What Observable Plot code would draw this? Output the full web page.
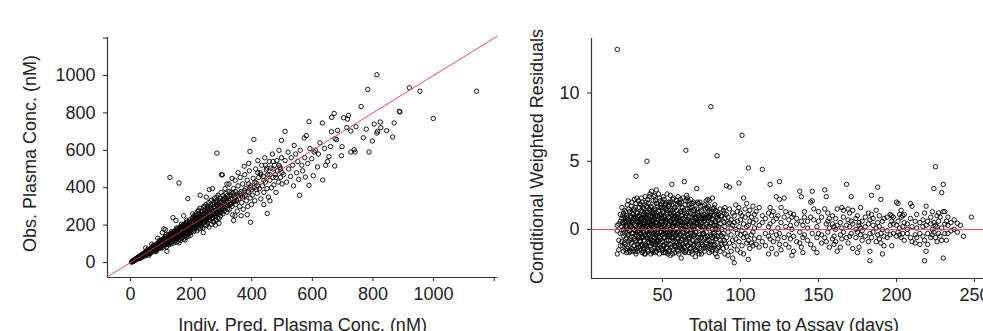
<!DOCTYPE html>
<html><head><meta charset="utf-8">
<script src="https://cdn.jsdelivr.net/npm/d3@7"></script>
<script src="https://cdn.jsdelivr.net/npm/@observablehq/plot@0.6"></script>
<style>
html,body{margin:0;padding:0;background:#fff;}
#wrap{position:relative;width:983px;height:331px;overflow:hidden;background:#fff;}
#left{position:absolute;left:0;top:0;width:500px;height:331px;}
#right{position:absolute;left:500px;top:0;width:500px;height:331px;}
#wrap svg{max-width:none !important;}
</style></head><body><div id="wrap"><div id="left"></div><div id="right"></div></div>
<script>
// Left panel: [individual predicted conc (nM), observed conc (nM)]
const ipredObs = [
[3,2],[5,6],[6,4],[8,9],[9,7],[10,12],[12,10],[13,15],[14,11],[16,18],[17,14],[18,21],[20,17],[21,24],[22,19],[24,20],[25,29],[26,23],[28,25],[29,33],[30,27],[31,22],[33,38],[34,30],[35,27],[37,42],[38,33],[39,36],[40,30],[42,48],[43,38],[44,35],[46,52],[47,41],[48,37],[49,55],[50,44],[52,40],[53,60],[54,47],[55,52],[57,45],[58,64],[59,50],[60,56],[62,48],[63,70],[64,58],[65,52],[67,76],[68,62],[69,55],[70,66],[72,80],[73,60],[74,68],[75,85],[77,64],[78,72],[79,58],[80,90],[82,75],[83,68],[84,95],[85,79],[87,70],[88,100],[89,83],[90,72],[92,104],[93,86],[94,76],[95,110],[97,90],[98,80],[99,115],[100,92],
[50,78],[70,98],[90,130],[60,38],[85,60],[115,175],[105,160],
[101,85],[102,118],[104,96],[105,78],[106,125],[108,101],[109,88],[110,130],[112,104],[113,92],[114,120],[115,138],[117,98],[118,110],[119,84],[120,140],[121,115],[123,105],[124,130],[125,148],[126,95],[128,118],[129,135],[130,108],[131,152],[133,122],[134,100],[135,140],[137,158],[138,125],[139,112],[140,145],[142,130],[143,105],[144,165],[145,138],[147,118],[148,152],[149,172],[150,128],[152,140],[153,110],[154,160],[155,178],[157,135],[158,148],[159,122],[160,168],[162,185],[163,142],[164,118],[165,155],[167,175],[168,130],[169,190],[170,150],[172,138],[173,165],[174,198],[175,125],[177,160],[178,182],[179,145],[180,205],[182,170],[183,135],[184,155],[185,190],[187,148],[188,212],[189,165],[190,140],[192,180],[193,198],[194,155],[195,220],[197,172],[198,145],[199,190],[200,162],
[130,455],[160,425],[189,342],[140,240],[110,180],[150,225],[175,250],[120,60],[180,120],[160,105],
[202,215],[203,178],[205,235],[206,195],[208,165],[209,250],[211,205],[212,182],[214,228],[215,260],[217,190],[218,215],[219,170],[221,240],[222,275],[224,200],[225,225],[227,180],[228,258],[229,290],[231,215],[232,195],[234,245],[235,270],[237,208],[238,230],[239,185],[241,262],[242,300],[244,220],[245,245],[247,198],[248,275],[249,310],[251,232],[252,255],[254,210],[255,285],[257,240],[258,320],[259,190],[261,265],[262,225],[264,295],[265,250],[267,205],[268,335],[269,272],[271,238],[272,310],[274,260],[275,215],[277,290],[278,345],[279,245],[281,275],[282,228],[284,320],[285,262],[287,300],[288,240],[289,360],[291,285],[292,210],[294,330],[295,268],[297,250],[298,305],[299,375],[300,282],
[285,585],[300,470],[303,468],[230,360],[260,390],[240,160],[280,200],[270,395],[250,350],
[302,315],[305,260],[308,345],[310,290],[312,395],[315,330],[318,270],[320,360],[322,305],[325,420],[327,285],[330,340],[332,375],[335,300],[337,255],[340,395],[342,330],[345,440],[347,310],[350,365],[352,275],[355,410],[357,340],[360,300],[362,455],[365,380],[367,320],[370,420],[372,285],[375,355],[377,470],[380,395],[382,330],[385,440],[387,300],[390,375],[392,490],[395,345],[397,410],[399,310],[318,420],[345,250],[365,250],[375,515],[390,530],[355,480],[335,450],
[396,215],[385,256],[451,262],[340,225],
[402,360],[405,450],[408,400],[410,330],[413,500],[415,425],[418,370],[420,545],[423,455],[425,395],[428,480],[430,340],[433,520],[435,410],[438,460],[440,375],[443,560],[445,430],[448,495],[450,395],[453,470],[455,350],[458,540],[460,440],[463,505],[465,400],[468,580],[470,455],[473,415],[475,520],[478,470],[480,375],[483,545],[485,490],[488,430],[490,600],[493,510],[495,455],[498,560],[500,420],
[407,658],[394,594],[498,653],[510,701],[460,330],[440,310],
[558,359],[540,626],[573,666],[580,678],[589,753],[589,413],[577,457],[603,464],[606,591],[617,511],[633,746],[634,441],[644,520],[655,566],[663,699],[664,776],[672,797],[674,516],[675,662],[680,657],[683,706],[696,571],[698,619],
[505,470],[510,545],[515,430],[520,590],[522,500],[528,460],[530,560],[535,520],[538,410],[545,580],[548,480],[552,540],[555,445],[560,600],[565,520],[568,490],[575,560],[585,530],[592,610],[598,555],[610,600],[620,580],[625,640],[640,610],[650,540],[660,620],
[703,774],[714,721],[716,767],[719,786],[727,703],[727,591],[738,603],[741,591],[744,726],[761,834],[768,667],[778,713],[783,925],[787,591],[798,650],[804,740],[813,1004],[813,692],[815,701],[824,751],[826,721],[845,705],[865,671],[870,746],[887,808],[889,805],[920,934],[955,916],[999,770],[1142,916],
[11,9],[15,16],[19,18],[23,25],[27,26],[32,30],[36,39],[41,40],[45,47],[51,50],[56,58],[61,62],[66,66],[71,73],[76,75],[81,82],[86,88],[91,90],[96,99],[103,104],[107,110],[111,112],[116,118],[122,124],[127,125],[132,135],[136,132],[141,143],[146,150],[151,148],[156,160],[161,158],[166,170],[171,168],[176,180],[181,178],[186,192],[191,188],[196,200],[201,198],
[107,95],[113,130],[119,128],[126,112],[131,140],[138,150],[143,128],[149,160],[154,140],[162,150],[167,185],[172,160],[178,195],[183,170],[188,180],[194,210],[199,175],[204,222],[210,190],[216,240],[220,205],[226,245],[233,220],[236,255],[243,235],[246,265],[253,240],[256,270],[263,248],[266,285],[273,255],[276,300],[283,265],[286,310],[293,275],[296,320],
[118,150],[135,165],[152,185],[168,205],[185,225],[205,260],[225,280],[245,300],[265,330],[285,350],[128,100],[148,115],[170,135],[190,155],[210,170],[232,185],[252,200],[272,220],[292,235],
[305,300],[315,310],[325,330],[335,340],[345,350],[355,355],[365,360],[375,385],[385,380],[395,400],[310,340],[320,320],[330,310],[340,360],[350,330],[360,370],[370,350],[380,360],[390,420],[400,390],
[56,70],[74,90],[96,120],[64,48],[82,62],[99,78],
[42,40],[46,44],[50,53],[54,51],[58,60],[62,59],[66,70],[70,68],[74,76],[78,77],[82,86],[86,82],[90,95],[94,91],[98,104],[102,99],[106,112],[110,106],[114,124],[118,114],[122,130],[126,121],[130,140],[134,129],[138,147],[142,136],[146,158],[150,143],[154,166],[158,150],[162,175],[166,160],[170,182],[174,167],[178,192],[182,175],[186,200],[190,180],[194,210],[198,190],[202,220],[206,198],[210,228],[214,204],[218,236],[222,212],[226,246],[230,220],[234,255],[238,228],[242,262],[246,236],[250,270],[254,244],[258,282],[262,250],[266,290],[270,258],[274,298],[278,265],[282,306],[286,272],[290,316],[294,280],[298,325],[302,288],[306,335],[310,296],[314,345],[318,305],[322,352],[326,312],[330,362],[334,318],[338,372],[342,325],[346,380],[350,332],
[130,118],[140,126],[150,134],[160,144],[170,152],[180,162],[190,170],[200,180],[210,188],[220,196],[230,205],[240,214],[250,222],[260,232],[270,240],[280,250],[290,258],[300,268],[310,276],[320,285],
[135,155],[145,168],[155,180],[165,192],[175,205],[185,215],[195,228],[205,240],[215,250],[225,262],[235,275],[245,285],[255,298],[265,310],[275,322],[285,333],[295,345],[305,358],[315,370],[325,380],
[410,430],[420,410],[430,470],[440,440],[450,505],[460,470],[470,500],[480,455],[490,520],[500,480],[420,480],[445,520],[470,540],[495,500],[415,390]
];

// Right panel: [total time to assay (days), conditional weighted residuals at that time]
const timeCwres = [
[21,[-1.8,-0.1,0.3,13.2]],[22,[-0.8,0.4,-1.5]],[23,[1.1,-0.3,0.6,-1.2]],[24,[0.2,-0.9,1.6,0.8]],[25,[-0.5,0.4,-1.6,1.2,0.0]],
[26,[0.9,-0.2,-1.1,0.5]],[27,[-1.7,0.3,1.0,-0.6,0.1]],[28,[0.7,-1.3,2.1,-0.4,0.5]],[29,[-0.1,1.3,-0.8,0.4,-1.5]],[30,[0.6,-0.5,1.7,-1.0,0.2,0.9]],
[31,[-1.6,0.1,1.1,-0.3,0.7]],[32,[2.2,-0.7,0.4,-1.2,0.0,1.4]],[33,[3.9,-0.4,0.8,-1.8,0.3,1.9,-0.9]],[34,[0.5,-1.1,1.2,-0.2,0.9,-1.6]],[35,[-0.6,0.2,1.6,-1.3,0.6,-0.1,1.0]],
[36,[1.8,-0.9,0.3,-1.5,0.8,-0.3]],[37,[-1.2,0.5,1.3,-0.5,0.1,2.0,-1.7]],[38,[0.7,-0.8,1.5,-0.2,0.4,-1.4,1.1]],[39,[-0.4,2.4,0.9,-1.1,0.2,-1.8,0.6]],[40,[5.0,1.2,-0.6,0.3,-1.3,0.8,-0.1,1.7]],
[41,[-0.9,0.5,1.9,-1.6,0.1,1.0,-0.4]],[42,[2.6,-0.2,0.7,-1.2,1.4,-0.7,0.3]],[43,[-1.5,0.9,2.8,-0.3,0.4,1.6,-1.0]],[44,[0.2,-1.7,1.1,-0.5,2.1,0.6,-0.9,1.3]],[45,[-0.6,2.5,0.8,-1.3,0.1,1.5,-0.2]],
[46,[1.9,-1.0,0.5,-1.6,1.2,-0.4,0.3,2.9]],[47,[-0.8,0.7,1.7,-1.4,0.0,1.0,-0.3]],[48,[2.3,-1.1,0.4,1.4,-0.6,0.9,-1.8]],[49,[-0.2,1.8,-1.3,0.6,1.1,-0.7,0.2]],[50,[0.8,-1.5,2.0,-0.4,1.3,0.1,-0.9]],
[51,[-1.2,0.3,1.6,-0.6,0.9,2.2,-0.1]],[52,[1.5,-1.7,0.5,-0.3,1.9,-1.0,0.7]],[53,[-0.5,2.6,0.2,-1.4,1.1,-0.2,0.6]],[54,[0.9,-0.8,1.7,-1.6,0.3,2.0]],[55,[-1.1,0.6,1.4,-0.4,0.0,2.5,-1.9]],
[56,[3.3,0.4,-1.3,1.0,-0.6,1.8,-0.1]],[57,[-0.9,1.2,0.2,-1.5,2.3,0.7,-0.3]],[58,[0.5,-1.2,1.6,-0.5,1.0,-1.7]],[59,[-0.3,2.1,0.8,-1.0,0.1,1.4]],[60,[1.1,-1.6,0.4,2.4,-0.7,0.9,-0.2]],
[61,[-1.3,0.7,1.9,-0.4,0.2,-0.9]],[62,[-2.1,0.3,1.3,-0.8,2.0,0.6]],[63,[0.8,-1.1,1.6,-0.2,2.3,-1.5]],[64,[3.5,-0.6,0.5,1.2,-1.3,0.0]],[65,[5.8,1.0,-0.9,0.2,2.1,-1.6,0.6]],
[66,[-0.4,1.5,-1.2,0.7,2.3,-0.1]],[67,[0.9,-1.7,0.3,1.8,-0.6]],[68,[-1.0,2.2,0.5,-0.3,1.2,-1.4]],[69,[0.2,-0.8,1.6,-1.8,0.9]],[70,[1.4,-0.5,0.6,-1.2,2.0,0.0]],
[71,[-1.5,0.8,1.1,-0.2,-2.0]],[72,[3.0,0.4,-0.9,1.5,-1.6,0.7]],[73,[-0.6,1.9,0.1,-1.1,1.0]],[74,[0.9,-1.4,0.3,2.0,-0.4]],[75,[-1.0,1.3,0.5,-1.8,0.0]],
[76,[1.7,-0.3,0.8,-1.2,0.2]],[77,[-0.7,1.1,-1.6,0.6,1.8]],[78,[0.4,-1.0,2.1,-0.2,1.0]],[79,[-1.3,0.8,1.5,-0.5,2.2]],[80,[1.3,-0.8,0.2,-1.7,0.9,2.1]],
[81,[9.0,-0.4,1.2,-1.1,0.5]],[82,[2.3,0.0,-1.5,0.8,-0.6]],[83,[-1.2,1.6,0.3,-0.3,1.0]],[84,[0.6,-1.8,1.4,-0.7,0.1]],[85,[5.4,-2.0,0.9,-0.5,1.3]],
[86,[0.2,-1.3,1.1,-0.2,0.7]],[87,[-0.8,1.5,0.4,-1.6]],[88,[1.0,-0.5,0.0,-1.1]],[89,[-1.4,0.6,1.4,-0.3]],[90,[0.8,-1.0,0.2,1.6,-1.8]],
[91,[3.2,-0.6,1.1,-1.3]],[92,[0.4,-1.9,0.9,-0.2]],[93,[3.1,-1.0,0.5,1.5]],[94,[-0.4,0.7,-1.6,0.1]],[95,[1.2,-0.8,-2.1,0.3]],
[96,[-2.45,0.5,-1.2,1.0]],[97,[0.0,1.8,-0.7]],[98,[-1.5,0.6,1.3,-0.3]],[99,[3.4,-0.9,0.2,1.6]],[100,[0.7,-1.7,1.2,-0.4]],
[101,[6.9,-0.1,1.0,-1.2]],[102,[2.3,-0.6,0.4,-1.8]],[103,[1.5,-0.3,0.9]],[104,[-1.0,0.2,1.9,-0.5]],[105,[4.5,-2.2,1.1,-0.8,0.3]],
[106,[0.6,-1.4,1.4]],[107,[-0.4,0.9,-1.0]],[108,[1.7,-0.2,-1.2,0.5]],[109,[0.1,-0.7,1.1]],[110,[-1.1,0.7,1.3]],
[112,[0.3,-0.6,1.6,-1.3]],[114,[4.4,-0.9,0.5,1.0]],[116,[-0.3,0.8,-1.2]],[118,[1.2,-0.5,0.2,-1.8]],[119,[3.3,1.6,-0.7,0.4]],
[120,[-0.2,1.0,-1.4]],[121,[0.6,-0.9,1.3]],[123,[2.4,-0.4,-1.8,0.8]],[124,[1.0,-0.7,0.1]],[125,[3.5,2.2,-0.3,-1.1]],
[126,[0.5,-1.5,1.6]],[128,[-0.6,0.9,2.3]],[129,[0.2,-1.1,1.3]],[131,[0.7,-0.4,-1.3]],[132,[1.2,-0.7,0.3]],
[133,[-1.9,0.9,0.0]],[134,[1.1,-0.5,-1.6]],[136,[0.4,-0.9,0.8]],[138,[2.8,-0.2,-1.0]],[139,[2.4,0.6,-1.3]],
[140,[-0.6,0.3,-1.7]],[141,[0.9,-0.4,1.3]],[143,[-0.8,0.1,0.6]],[145,[2.0,-1.1,0.9]],[146,[2.8,2.1,-0.3]],
[147,[0.7,-1.4,1.5]],[149,[-1.7,0.2,-0.6]],[150,[1.3,-0.3,0.6]],[152,[0.9,-1.0,-0.4]],[154,[2.9,1.5,-0.6]],
[155,[2.4,0.4,-0.9]],[156,[1.2,-0.2,0.6]],[157,[-1.3,0.8,0.1]],[159,[0.4,-0.7,1.0]],[160,[-0.5,0.2,-1.1]],
[161,[0.8,-0.9,0.0]],[162,[-1.6,0.3,1.5]],[164,[0.5,-0.4,-1.3]],[165,[1.6,0.1,-0.7]],[166,[0.9,-0.2,1.4]],
[168,[3.3,0.3,-0.6]],[169,[1.5,-1.0,0.7]],[170,[0.2,-0.5,1.2]],[171,[2.4,-0.3,0.6]],[172,[-1.4,0.4,1.4]],
[174,[-0.6,0.8,0.0]],[175,[-1.7,1.0,-0.2]],[176,[0.3,-1.3,0.5]],[177,[1.6,-0.4,0.1]],[178,[-0.8,0.6,-0.1]],
[180,[0.9,-0.5,0.2]],[182,[1.2,-0.9,0.4]],[183,[-2.3,-1.6,0.7,-0.3]],[184,[2.5,1.1,-0.6]],[185,[0.3,-0.2,0.8]],
[187,[1.4,-0.9,0.1]],[188,[3.1,0.5,-0.4]],[189,[-0.7,0.2,1.0]],[190,[2.2,-0.3,-1.0]],[191,[0.6,-1.8,0.0]],
[192,[-0.5,0.8,-1.2]],[194,[0.9,-0.1,-0.6]],[196,[1.1,0.3,-0.4]],[197,[-1.2,0.6,1.0]],[198,[0.4,-0.3,0.9]],
[200,[2.0,-0.5,0.3]],[201,[1.9,0.6,-0.2]],[202,[-0.4,1.1,0.1]],[203,[0.9,-0.6,1.4]],[204,[0.2,1.0,-0.3]],
[205,[-0.8,0.5,1.1]],[207,[0.4,-0.3,0.0]],[209,[-0.6,0.8,1.9]],[210,[0.2,-0.9,1.7]],[212,[0.6,-0.4,-1.0]],
[213,[1.1,0.1,-0.6]],[215,[-0.3,0.5,-1.1]],[217,[0.7,-0.5,0.2]],[218,[-2.3,-0.8,1.2]],[219,[1.7,-1.6,0.3]],
[220,[-1.1,0.6,-0.3]],[222,[0.4,-0.6,0.9]],[223,[1.3,-0.4,0.0]],[224,[3.0,0.5,-0.2]],[225,[4.6,-0.6,0.3]],
[226,[1.0,-0.9,0.2]],[227,[-0.3,0.6,1.2]],[228,[0.9,-0.5]],[229,[2.7,0.1,-0.8]],[230,[3.3,-2.1,1.3]],
[231,[1.3,-0.3,0.4]],[232,[-0.8,0.6]],[233,[0.3,-0.3,0.9]],[235,[0.5,-0.1]],[237,[0.7,0.0]],
[239,[0.45,-0.2]],[241,[0.3]],[243,[-0.5]],[248,[0.9]],
[25.5,[0.6,-1.0,1.4]],[27.5,[-0.2,0.9,-1.4,1.8]],[29.5,[0.3,-0.7,1.0,-1.6]],[31.5,[0.8,-1.2,0.0,1.5]],[33.5,[-0.5,0.6,-1.4,1.2,2.3]],
[35.5,[0.4,-0.9,1.9,-0.2]],[37.5,[0.9,-0.6,-1.6,0.2,1.6]],[39.5,[0.0,1.1,-1.2,-0.5,2.0]],[41.5,[0.6,-1.0,1.5,-0.3,2.4]],[43.5,[-0.8,0.3,1.2,-1.6,0.7]],
[45.5,[1.0,-0.4,-1.1,0.5,2.1,-1.7]],[47.5,[0.3,-0.9,1.3,-1.5,2.6]],[49.5,[0.9,-0.2,-1.4,0.4,1.6]],[51.5,[-0.6,1.0,0.2,-1.7,1.8]],[53.5,[0.7,-1.1,1.4,-0.4,-1.8]],
[55.5,[0.1,1.2,-0.8,0.6,2.0]],[57.5,[-1.2,0.5,1.5,-0.2,0.9]],[59.5,[0.4,-0.6,1.8,-1.5,1.1]],[61.5,[1.3,-0.3,0.6,-1.2,2.2]],[63.5,[-0.5,0.8,-1.6,0.3,1.4]],
[65.5,[0.6,-1.0,1.2,-0.1,2.5]],[67.5,[-0.7,0.4,1.6,-1.4]],[69.5,[1.1,-0.4,0.2,-1.1,1.9]],[71.5,[-0.2,0.9,-1.5,0.5]],[73.5,[0.6,-0.8,1.3,-1.8]],
[75.5,[-0.4,1.0,0.2,-1.1]],[77.5,[0.8,-0.6,1.5,-1.3]],[79.5,[0.1,-1.2,0.9,1.7]],[81.5,[-0.9,0.5,1.3,-1.6]],[83.5,[0.3,-0.5,1.8,-1.1]],
[85.5,[0.7,-1.4,0.0]],[87.5,[-0.4,1.0,-1.0]],[89.5,[0.5,-0.8,1.2]],
[24.5,[-1.2,0.5,1.0,-0.3]],[26.5,[0.2,-1.5,1.3,-0.7,0.8]],[28.5,[-0.9,0.6,1.5,-0.1,-1.7]],[30.5,[1.2,-0.3,0.5,-1.4,2.0]],[32.5,[-0.1,0.9,-0.8,1.6,-1.6]],
[34.5,[0.3,-1.3,1.0,-0.5,2.1,0.7]],[36.5,[-1.1,0.7,0.0,1.4,-0.6,2.3]],[38.5,[0.5,-0.4,1.8,-1.2,0.9,-1.8]],[40.5,[-0.7,0.2,1.3,-1.5,2.2,0.6]],[42.5,[1.0,-0.8,0.4,-1.8,1.7,-0.1]],
[44.5,[-0.3,1.4,-1.1,0.7,2.4,-0.6]],[46.5,[0.5,-1.4,1.0,-0.2,1.9,-0.9]],[48.5,[-1.0,0.8,0.1,1.6,-0.5,2.1]],[50.5,[0.3,-1.2,1.2,-0.3,2.4,-1.7]],[52.5,[-0.8,0.6,1.5,-0.1,-1.3,2.0]],
[54.5,[1.2,-0.5,0.4,-1.5,1.8,-0.2]],[56.5,[-0.6,0.8,-1.8,1.4,0.2,2.2]],[58.5,[0.9,-0.9,0.3,1.9,-1.3,-0.4]],[60.5,[-0.2,1.2,-1.1,0.6,2.0,-1.8]],[62.5,[0.5,-0.7,1.6,-1.4,0.1,1.0]],
[64.5,[-1.0,0.9,0.2,1.8,-0.5,-1.7]],[66.5,[0.7,-0.3,1.3,-1.2,2.1]],[68.5,[-0.5,0.6,1.9,-1.6,0.0]],[70.5,[0.9,-1.1,0.3,1.5,-0.4]],[72.5,[-0.8,0.5,1.2,-1.3,2.0]],
[74.5,[0.2,-0.6,1.7,-1.6,0.8]],[76.5,[-1.4,0.6,1.1,-0.3]],[78.5,[0.9,-0.8,0.2,1.6]],[80.5,[-0.5,1.0,-1.4,0.4]],[82.5,[0.7,-1.1,1.5,-0.2]],
[84.5,[-0.7,0.3,1.1,-1.5]]
];

const leftTicks = [0, 200, 400, 600, 800, 1000, 1200];
const leftTickLabels = ["0", "200", "400", "600", "800", "1000", ""];
const rightXTicks = [50, 100, 150, 200, 250];
const rightYTicks = [0, 5, 10];
const leftXLabel = "Indiv. Pred. Plasma Conc. (nM)";
const leftYLabel = "Obs. Plasma Conc. (nM)";
const rightXLabel = "Total Time to Assay (days)";
const rightYLabel = "Conditional Weighted Residuals";

const FONT = "'Liberation Sans', Arial, sans-serif";
const RED = "#e8383d";
const AXIS = "#333";

const lxDom = [-76, 1211], lyDom = [-80, 1203];
const rxDom = [4.5, 266.7], ryDom = [-3.6, 14];

const leftPts = ipredObs.map(([p, o]) => ({p, o}));
const rightPts = timeCwres.flatMap(([t, ys]) => ys.map(y => ({t, y})));
const labelMap = new Map(leftTicks.map((t, i) => [t, leftTickLabels[i]]));

const left = Plot.plot({
  width: 500, height: 331,
  marginLeft: 107, marginRight: 3, marginTop: 37, marginBottom: 54,
  style: {fontFamily: FONT, fontSize: "18px", color: "#222", background: "transparent", maxWidth: "none"},
  x: {domain: lxDom, ticks: leftTicks, tickFormat: d => labelMap.get(d), tickSize: 4, tickPadding: 6, label: null},
  y: {domain: lyDom, ticks: leftTicks, tickFormat: d => labelMap.get(d), tickSize: 4, tickPadding: 8, label: null},
  marks: [
    Plot.ruleX([lxDom[0]], {stroke: AXIS, strokeWidth: 1.2}),
    Plot.ruleY([lyDom[0]], {stroke: AXIS, strokeWidth: 1.2}),
    Plot.dot(leftPts, {x: "p", y: "o", r: 2.2, stroke: "#000", strokeWidth: 0.9, fill: "none"}),
    Plot.line(lxDom.map(v => ({a: v})), {x: "a", y: "a", stroke: RED, strokeWidth: 0.9}),
    Plot.text([leftXLabel], {text: d => d, frameAnchor: "bottom", dy: 48, fontSize: 18, textAnchor: "middle", lineAnchor: "middle", fill: "#222"}),
    Plot.text([leftYLabel], {text: d => d, frameAnchor: "left", dx: -77, dy: -4, rotate: -90, fontSize: 18, textAnchor: "middle", lineAnchor: "middle", fill: "#222"})
  ]
});
document.getElementById("left").appendChild(left);

const right = Plot.plot({
  width: 500, height: 331,
  marginLeft: 91, marginRight: 0, marginTop: 38, marginBottom: 53,
  style: {fontFamily: FONT, fontSize: "18px", color: "#222", background: "transparent", maxWidth: "none"},
  x: {domain: rxDom, ticks: rightXTicks, tickSize: 4, tickPadding: 6, label: null},
  y: {domain: ryDom, ticks: rightYTicks, tickSize: 4, tickPadding: 8, label: null},
  marks: [
    Plot.ruleX([rxDom[0]], {stroke: AXIS, strokeWidth: 1.2}),
    Plot.ruleY([ryDom[0]], {stroke: AXIS, strokeWidth: 1.2}),
    Plot.dot(rightPts, {x: "t", y: "y", r: 2.2, stroke: "#000", strokeWidth: 0.9, fill: "none"}),
    Plot.ruleY([0], {stroke: RED, strokeWidth: 0.9}),
    Plot.text([rightXLabel], {text: d => d, frameAnchor: "bottom", dx: -2, dy: 47, fontSize: 18, textAnchor: "middle", lineAnchor: "middle", fill: "#222"}),
    Plot.text([rightYLabel], {text: d => d, frameAnchor: "left", dx: -54, dy: -2, rotate: -90, fontSize: 18, textAnchor: "middle", lineAnchor: "middle", fill: "#222"})
  ]
});
document.getElementById("right").appendChild(right);
</script>
</body></html>
